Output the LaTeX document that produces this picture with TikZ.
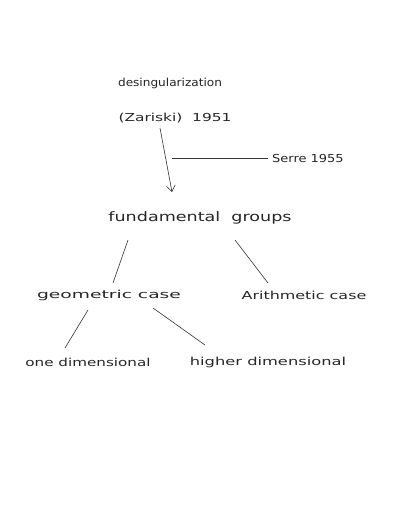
\documentclass[tikz,border=0pt]{standalone}
\usepackage{fontspec}
\usepackage{graphicx}
\setmainfont{DejaVu Sans}
\usetikzlibrary{arrows.meta}
\newcommand{\hsc}[2]{\scalebox{#1}[1]{#2}}
\begin{document}
\begin{tikzpicture}[x=1pt,y=-1pt,
  lbl/.style={inner sep=0pt,font=\fontsize{11}{13}\selectfont,text=black!85},
  ln/.style={line width=0.6pt,draw=black!80}]
\useasboundingbox[fill=white] (0,0) rectangle (400,530);
\node[lbl] (des) at (170,83) {\hsc{1.1}{desingularization}};
\node[lbl] (zar) at (175,118) {\hsc{1.4}{(Zariski)\ \ 1951}};
\node[lbl,anchor=west] (serre) at (272,158) {\hsc{1.18}{Serre 1955}};
\node[lbl,font=\fontsize{13}{15}\selectfont] (fund) at (200,218) {\hsc{1.35}{fundamental\ \ groups}};
\node[lbl] (geo) at (109,295) {\hsc{1.7}{geometric case}};
\node[lbl] (ari) at (304,295) {\hsc{1.45}{Arithmetic case}};
\node[lbl] (one) at (88,362) {\hsc{1.38}{one dimensional}};
\node[lbl] (high) at (268,362) {\hsc{1.48}{higher dimensional}};
\coordinate (a1) at (160,128);
\coordinate (a2) at (172,192);
\coordinate (s1) at (172,158);
\draw[ln,-{Straight Barb[length=6pt,width=9pt]}] (a1) -- (a2);
\draw[ln] (s1) -- ([xshift=-4pt]serre.west);
\draw[ln] (128,240) -- (113,283);
\draw[ln] (235,240) -- (268,283);
\draw[ln] (88,310) -- (65,348);
\draw[ln] (153,308) -- (205,345);
\end{tikzpicture}
\end{document}
